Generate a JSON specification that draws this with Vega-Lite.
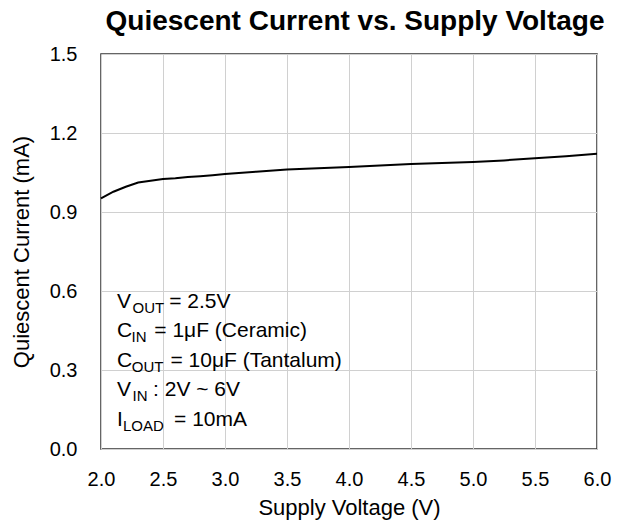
{
  "$schema": "https://vega.github.io/schema/vega-lite/v6.json",
  "autosize": "none",
  "width": 496,
  "height": 395,
  "padding": {"left": 101, "top": 54, "right": 23, "bottom": 81},
  "background": "white",
  "config": {
    "font": "Liberation Sans",
    "view": {"stroke": "#333333", "strokeWidth": 1.5},
    "axis": {
      "domain": false,
      "ticks": false,
      "labelFlush": false,
      "gridColor": "#d0d0d0",
      "gridWidth": 1,
      "labelFont": "Liberation Sans",
      "labelFontSize": 20,
      "labelColor": "#000000",
      "titleFont": "Liberation Sans",
      "titleFontSize": 22,
      "titleFontWeight": "normal",
      "titleColor": "#000000"
    }
  },
  "title": {
    "text": "Quiescent Current vs. Supply Voltage",
    "font": "Liberation Sans",
    "fontSize": 28,
    "fontWeight": "bold",
    "color": "#000000",
    "anchor": "middle",
    "dx": 6,
    "offset": 8
  },
  "datasets": {
    "curve": [
      {"v": 2.0, "i": 0.952},
      {"v": 2.1, "i": 0.977},
      {"v": 2.2, "i": 0.996},
      {"v": 2.3, "i": 1.012},
      {"v": 2.4, "i": 1.019},
      {"v": 2.5, "i": 1.025},
      {"v": 2.6, "i": 1.028},
      {"v": 2.7, "i": 1.033},
      {"v": 2.8, "i": 1.036},
      {"v": 2.9, "i": 1.040},
      {"v": 3.0, "i": 1.044},
      {"v": 3.25, "i": 1.053},
      {"v": 3.5, "i": 1.061},
      {"v": 3.75, "i": 1.066},
      {"v": 4.0, "i": 1.071},
      {"v": 4.25, "i": 1.077},
      {"v": 4.5, "i": 1.082},
      {"v": 4.75, "i": 1.086},
      {"v": 5.0, "i": 1.090},
      {"v": 5.25, "i": 1.096},
      {"v": 5.5, "i": 1.104},
      {"v": 5.75, "i": 1.112},
      {"v": 6.0, "i": 1.121}
    ],
    "notes": [
      {"role": "main", "t": "V", "x": 2.129, "y": 0.535},
      {"role": "sub", "t": "OUT", "x": 2.254, "y": 0.535},
      {"role": "main", "t": "= 2.5V", "x": 2.55, "y": 0.535},
      {"role": "main", "t": "C", "x": 2.129, "y": 0.424},
      {"role": "sub", "t": "IN", "x": 2.246, "y": 0.424},
      {"role": "main", "t": "= 1\u03bcF (Ceramic)", "x": 2.43, "y": 0.424},
      {"role": "main", "t": "C", "x": 2.129, "y": 0.312},
      {"role": "sub", "t": "OUT", "x": 2.248, "y": 0.312},
      {"role": "main", "t": "= 10\u03bcF (Tantalum)", "x": 2.56, "y": 0.312},
      {"role": "main", "t": "V", "x": 2.129, "y": 0.201},
      {"role": "sub", "t": "IN", "x": 2.254, "y": 0.201},
      {"role": "main", "t": ": 2V ~ 6V", "x": 2.42, "y": 0.201},
      {"role": "main", "t": "I", "x": 2.129, "y": 0.089},
      {"role": "sub", "t": "LOAD", "x": 2.177, "y": 0.089},
      {"role": "main", "t": "= 10mA", "x": 2.589, "y": 0.089}
    ]
  },
  "layer": [
    {
      "data": {"name": "curve"},
      "mark": {"type": "line", "color": "#000000", "strokeWidth": 2},
      "encoding": {
        "x": {
          "field": "v",
          "type": "quantitative",
          "title": "Supply Voltage (V)",
          "scale": {"domain": [2, 6], "nice": false},
          "axis": {"values": [2, 2.5, 3, 3.5, 4, 4.5, 5, 5.5, 6], "format": ".1f", "labelPadding": 20, "titlePadding": 8}
        },
        "y": {
          "field": "i",
          "type": "quantitative",
          "title": "Quiescent Current (mA)",
          "scale": {"domain": [0, 1.5], "nice": false},
          "axis": {"values": [0, 0.3, 0.6, 0.9, 1.2, 1.5], "format": ".1f", "labelPadding": 24, "titlePadding": 16}
        }
      }
    },
    {
      "data": {"name": "notes"},
      "transform": [{"filter": "datum.role === 'main'"}],
      "mark": {"type": "text", "align": "left", "baseline": "alphabetic", "fontSize": 21, "color": "#000000"},
      "encoding": {
        "x": {"field": "x", "type": "quantitative"},
        "y": {"field": "y", "type": "quantitative"},
        "text": {"field": "t"}
      }
    },
    {
      "data": {"name": "notes"},
      "transform": [{"filter": "datum.role === 'sub'"}],
      "mark": {"type": "text", "align": "left", "baseline": "alphabetic", "fontSize": 15, "dy": 5, "color": "#000000"},
      "encoding": {
        "x": {"field": "x", "type": "quantitative"},
        "y": {"field": "y", "type": "quantitative"},
        "text": {"field": "t"}
      }
    }
  ]
}
